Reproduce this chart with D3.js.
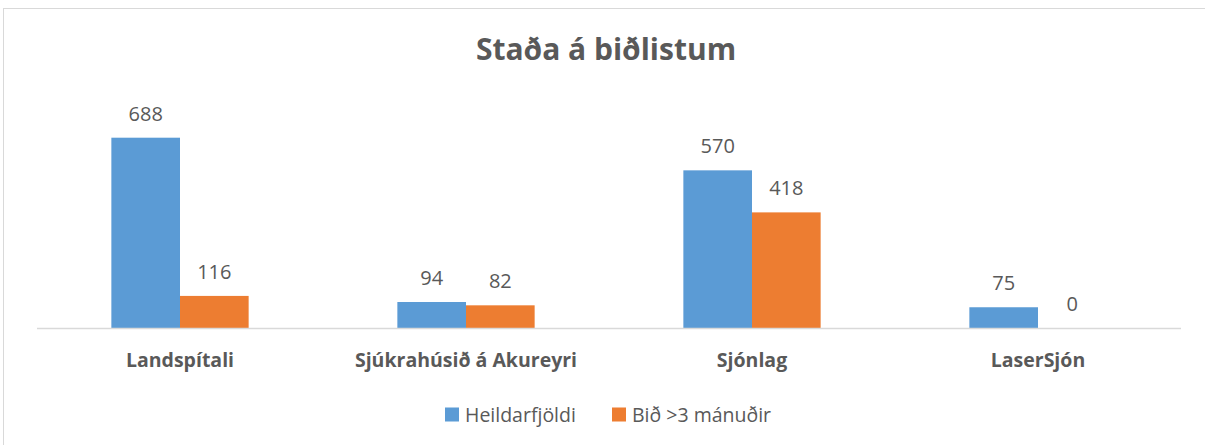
<!doctype html>
<html>
<head>
<meta charset="utf-8">
<style>
body { margin: 0; background: #fff; }
text { font-family: "Open Sans", Lato, sans-serif; fill: #595959; }
</style>
</head>
<body>
<div id="root"></div>
<script src="https://d3js.org/d3.v7.min.js"></script>
<script>
var categories = ['Landspítali', 'Sjúkrahúsið á Akureyri', 'Sjónlag', 'LaserSjón'];
var seriesNames = ['Heildarfjöldi', 'Bið >3 mánuðir'];
var total = [688, 94, 570, 75];
var waiting = [116, 82, 418, 0];
var colors = ['#5B9BD5', '#ED7D31'];

var W = 1205, H = 445;
var svg = d3.select('#root').append('svg')
	.attr('width', W)
	.attr('height', H);

// chart border
svg.append('rect')
	.attr('x', 3.5).attr('y', 8.5)
	.attr('width', W + 10).attr('height', H + 10)
	.attr('fill', 'none')
	.attr('stroke', '#d9d9d9');

svg.append('text')
	.attr('x', 606).attr('y', 60)
	.attr('text-anchor', 'middle')
	.style('font-size', '30px')
	.style('font-weight', 'bold')
	.text('Staða á biðlistum');

var x = d3.scaleBand().domain(categories).range([37, 1181]).paddingInner(0.52).paddingOuter(0.26);
var x1 = d3.scaleBand().domain([0, 1]).range([0, x.bandwidth()]);
var y = d3.scaleLinear().domain([0, 800]).range([328, 328 - 800 * 0.2766]);

var data = categories.map(function(c, i) {
	return { cat: c, values: [total[i], waiting[i]] };
});

var g = svg.append('g');
var groups = g.selectAll('.grp')
	.data(data)
	.enter().append('g')
		.attr('transform', function(d) { return 'translate(' + x(d.cat) + ',0)'; });

groups.selectAll('rect')
	.data(function(d) { return d.values; })
	.enter().append('rect')
		.attr('x', function(d, i) { return x1(i); })
		.attr('y', function(d) { return y(d); })
		.attr('width', x1.bandwidth())
		.attr('height', function(d) { return y(0) - y(d); })
		.attr('fill', function(d, i) { return colors[i]; });

groups.selectAll('.lbl')
	.data(function(d) { return d.values; })
	.enter().append('text')
		.attr('class', 'lbl')
		.attr('x', function(d, i) { return x1(i) + x1.bandwidth() / 2; })
		.attr('y', function(d) { return y(d) - 17; })
		.attr('text-anchor', 'middle')
		.style('font-size', '20px')
		.text(function(d) { return d; });

// axis line
svg.append('line')
	.attr('x1', 37).attr('x2', 1181)
	.attr('y1', 328.5).attr('y2', 328.5)
	.attr('stroke', '#d9d9d9').attr('stroke-width', 1.5);

svg.selectAll('.cat')
	.data(categories)
	.enter().append('text')
		.attr('class', 'cat')
		.attr('x', function(d) { return x(d) + x.bandwidth() / 2; })
		.attr('y', 367)
		.attr('text-anchor', 'middle')
		.style('font-size', '19.5px')
		.style('font-weight', 'bold')
		.text(function(d) { return d; });

// legend
var legendX = [445, 612];
var leg = svg.selectAll('.leg')
	.data(seriesNames)
	.enter().append('g')
		.attr('transform', function(d, i) { return 'translate(' + legendX[i] + ',407.5)'; });
leg.append('rect')
	.attr('width', 14).attr('height', 14)
	.attr('fill', function(d, i) { return colors[i]; });
leg.append('text')
	.attr('x', 20).attr('y', 14)
	.style('font-size', '19.5px')
	.text(function(d) { return d; });
</script>
</body>
</html>
